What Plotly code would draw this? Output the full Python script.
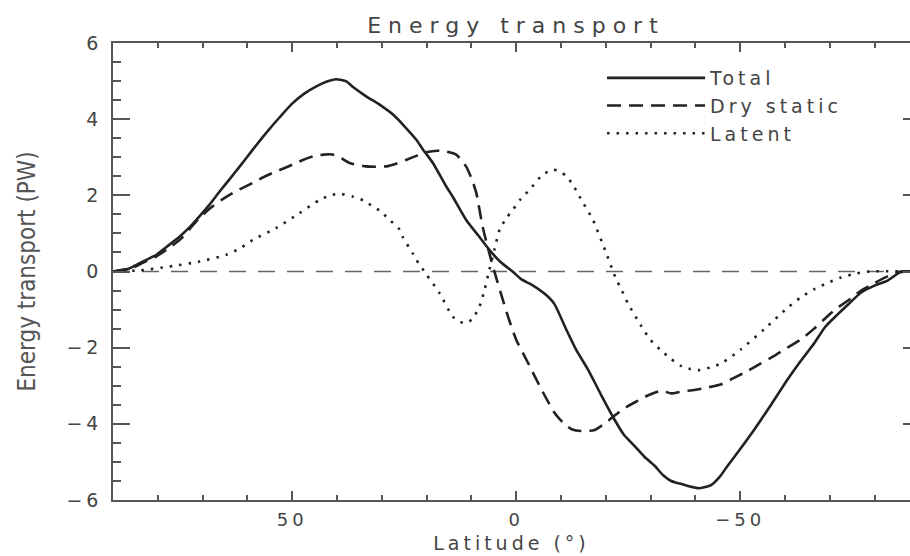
import plotly.graph_objects as go

# ---- data (latitude in degrees, transport in PW) ----
total_lat = [90, 87, 85.5, 83, 80.3, 78, 75.1, 73, 70.7, 68.5, 66.2, 64, 61.7, 58.8, 55.8,
             52.8, 49.9, 47.3, 44.6, 42.4, 40.2, 37.9, 36.5, 33.5, 30.5, 27.5, 25, 22.3,
             20.8, 18.6, 15.6, 14.2, 11.2, 8.5, 6.0, 3.5, 0.8, -1.1, -3.5, -6.5, -8.5,
             -11.2, -13.4, -16, -19, -21.9, -24, -26.4, -28.5, -30.9, -32.8, -34.6, -36.5,
             -38.3, -40.9, -43.5, -45.5, -47.2, -50, -53.2, -57, -60.6, -63.5, -66.6, -69,
             -71.8, -74.5, -77, -80, -82.9, -85.5, -87, -90]
total_val = [0, 0.05, 0.13, 0.28, 0.44, 0.65, 0.92, 1.15, 1.45, 1.75, 2.1, 2.42, 2.76, 3.2,
             3.64, 4.05, 4.42, 4.67, 4.86, 4.98, 5.05, 4.99, 4.85, 4.6, 4.38, 4.12, 3.82,
             3.46, 3.2, 2.85, 2.23, 1.97, 1.36, 0.95, 0.57, 0.25, 0.0, -0.2, -0.35, -0.6,
             -0.85, -1.53, -2.06, -2.57, -3.25, -3.88, -4.28, -4.58, -4.85, -5.1, -5.35,
             -5.5, -5.57, -5.63, -5.69, -5.61, -5.38, -5.1, -4.66, -4.14, -3.48, -2.83,
             -2.35, -1.87, -1.45, -1.12, -0.82, -0.55, -0.37, -0.24, -0.03, 0, 0]

dry_lat = [90, 85.5, 83, 80.3, 78, 75.1, 73, 70.7, 67.8, 65.5, 63.3, 58.8, 56, 53.6, 51,
           48.4, 45.4, 43, 41, 39, 37.2, 33.5, 29, 26.8, 24.6, 22, 20.1, 17.5, 15.6, 13.4,
           11.2, 10, 8.9, 7.5, 6.0, 4.8, 3.0, 1.5, 0.0, -2.6, -5.6, -8.5, -10.8, -12.5,
           -14.5, -17.5, -20, -21.9, -24, -26.4, -29.5, -32.4, -34.6, -37, -39.8, -42.5,
           -45.8, -48.5, -51.7, -54.5, -57.7, -60.5, -63.6, -66.5, -69.6, -72, -74, -77,
           -80, -83, -86, -90]
dry_val = [0, 0.1, 0.25, 0.4, 0.58, 0.83, 1.1, 1.41, 1.71, 1.9, 2.06, 2.33, 2.5, 2.63, 2.75,
           2.89, 3.02, 3.07, 3.07, 2.97, 2.85, 2.76, 2.76, 2.83, 2.93, 3.05, 3.13, 3.17,
           3.15, 3.07, 2.76, 2.45, 2.06, 1.18, 0.48, -0.03, -0.74, -1.3, -1.79, -2.39,
           -3.09, -3.7, -4.01, -4.15, -4.19, -4.16, -3.97, -3.79, -3.6, -3.44, -3.25,
           -3.13, -3.2, -3.15, -3.11, -3.05, -2.96, -2.8, -2.61, -2.42, -2.21, -2.0, -1.78,
           -1.5, -1.16, -0.93, -0.77, -0.5, -0.3, -0.12, 0, 0]

latent_lat = [90, 84, 77.4, 70.7, 64.7, 61.5, 58.8, 53.6, 48.4, 43.9, 41.5, 39.4, 36.5, 34,
              32, 30.5, 28.3, 26, 25.3, 23.1, 22.3, 20.1, 17.1, 14.2, 12.5, 11.2, 9.8, 8.2,
              7, 6, 4.8, 3.7, 2.2, 0.76, -1, -3, -5.9, -8.2, -9.8, -11.2, -12.7, -14.1,
              -17.1, -20.1, -22.3, -23.4, -24.9, -27.9, -30, -32.4, -34.6, -36.8, -38.8,
              -40.9, -43.3, -45.8, -50.2, -55.4, -60.6, -63.5, -66.6, -69.5, -72.5, -76,
              -79, -90]
latent_val = [0, 0.03, 0.13, 0.26, 0.44, 0.62, 0.83, 1.14, 1.53, 1.88, 2.0, 2.04, 1.97,
              1.86, 1.71, 1.6, 1.36, 1.1, 0.9, 0.48, 0.31, -0.07, -0.57, -1.18, -1.32,
              -1.36, -1.25, -0.92, -0.45, 0.04, 0.6, 1.1, 1.4, 1.62, 1.9, 2.15, 2.54, 2.67,
              2.63, 2.5, 2.27, 1.97, 1.36, 0.48, -0.2, -0.45, -0.83, -1.43, -1.8, -2.08,
              -2.3, -2.48, -2.56, -2.59, -2.52, -2.41, -2.04, -1.51, -0.95, -0.68, -0.46,
              -0.3, -0.16, -0.05, 0, 0]

zero_lat = [90, -90]
zero_val = [0, 0]

names = ["Total", "Dry static", "Latent"]
title_text = "Energy transport"
x_title = "Latitude (°)"
y_title = "Energy transport (PW)"

INK = "#222222"
AXC = "#555555"
TXT = "#444444"
HERSHEY = "DejaVu Sans, Verdana, sans-serif"

fig = go.Figure()
fig.add_trace(go.Scatter(x=zero_lat, y=zero_val, mode="lines", showlegend=False,
                         hoverinfo="skip",
                         line=dict(color="#666666", width=1.3, dash="17px,12px")))
fig.add_trace(go.Scatter(x=total_lat, y=total_val, mode="lines", name=names[0],
                         line=dict(color=INK, width=2.6, shape="spline", smoothing=0.6)))
fig.add_trace(go.Scatter(x=dry_lat, y=dry_val, mode="lines", name=names[1],
                         line=dict(color=INK, width=2.6, dash="14px,8px",
                                   shape="spline", smoothing=0.6)))
fig.add_trace(go.Scatter(x=latent_lat, y=latent_val, mode="lines", name=names[2],
                         line=dict(color=INK, width=2.6, dash="2.5px,7px",
                                   shape="spline", smoothing=0.6)))
# invisible trace on a right-hand axis, only to carry the right-side ticks
fig.add_trace(go.Scatter(x=zero_lat, y=zero_val, yaxis="y2", mode="lines",
                         showlegend=False, hoverinfo="skip",
                         line=dict(color="rgba(0,0,0,0)", width=0)))

fig.update_layout(
    width=910, height=556,
    template="none",
    paper_bgcolor="white", plot_bgcolor="white",
    margin=dict(l=113, r=0, t=43, b=56),
    title=dict(text=title_text, x=0.567, xanchor="center", y=0.955, yanchor="middle",
               yref="container", font=dict(family=HERSHEY, size=22, color=TXT)),
    showlegend=True,
    legend=dict(x=0.6136, xanchor="left", y=0.965, yanchor="top",
                bgcolor="rgba(0,0,0,0)", borderwidth=0, itemwidth=98,
                tracegroupgap=0,
                font=dict(family=HERSHEY, size=19, color=TXT)),
    xaxis=dict(range=[90, -87.9], autorange=False,
               tick0=0, dtick=50, ticks="inside", ticklen=9, tickwidth=1.5,
               tickcolor=AXC, showline=True, linecolor=AXC, linewidth=1.5,
               mirror="ticks", showgrid=False, zeroline=False,
               ticklabelstandoff=3,
               tickfont=dict(family=HERSHEY, size=18, color=TXT),
               minor=dict(dtick=10, ticks="inside", ticklen=5, tickwidth=1.5,
                          tickcolor=AXC, showgrid=False),
               title=dict(text=x_title, standoff=7,
                          font=dict(family=HERSHEY, size=19, color=TXT))),
    yaxis=dict(range=[-6, 6], autorange=False,
               tick0=0, dtick=2, ticks="inside", ticklen=17, tickwidth=1.5,
               tickcolor=AXC, showline=True, linecolor=AXC, linewidth=1.5,
               mirror=False, showgrid=False, zeroline=False,
               ticklabelstandoff=5,
               tickfont=dict(family=HERSHEY, size=19, color=TXT),
               minor=dict(dtick=0.5, ticks="inside", ticklen=8, tickwidth=1.5,
                          tickcolor=AXC, showgrid=False),
               title=dict(text=y_title, standoff=32,
                          font=dict(family="Liberation Sans Narrow, DejaVu Sans Condensed, Liberation Sans, sans-serif",
                                    size=24, color="#555555"))),
    yaxis2=dict(range=[-6, 6], autorange=False, overlaying="y", side="right",
                tick0=0, dtick=2, ticks="inside", ticklen=7, tickwidth=1.5,
                tickcolor=AXC, showline=False, showgrid=False, zeroline=False,
                showticklabels=False),
)

post = """
var gd = document.getElementById('{plot_id}');
function spaceOut(){
  gd.querySelectorAll('.gtitle').forEach(function(e){ e.style.letterSpacing='7px'; });
  gd.querySelectorAll('.xtick text, .ytick text, .xtitle').forEach(function(e){ e.style.letterSpacing='4px'; });
  gd.querySelectorAll('.legendtext').forEach(function(e){ e.style.letterSpacing='4px'; });
  gd.querySelectorAll('.legend, .legend [clip-path]').forEach(function(e){ e.removeAttribute('clip-path'); });
}
spaceOut();
"""

fig.write_html("out.html", post_script=post)
